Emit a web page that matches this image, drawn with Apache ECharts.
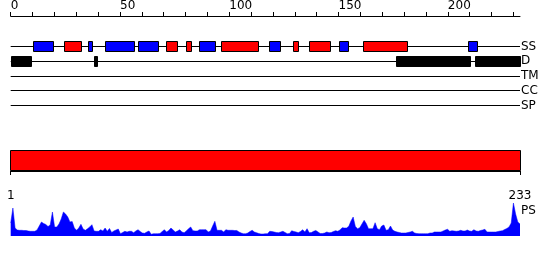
<!DOCTYPE html>
<html><head><meta charset="utf-8">
<script src="https://cdn.jsdelivr.net/npm/echarts@6/dist/echarts.min.js"></script>
<style>html,body{margin:0;padding:0;background:#fff}#c{width:550px;height:260px}</style>
</head><body><div id="c"></div>
<script>
const seqLength = 233;
const trackNames = ['SS', 'D', 'TM', 'CC', 'SP'];
const topTicks = [0,10,20,30,40,50,60,70,80,90,100,110,120,130,140,150,160,170,180,190,200,210,220,230];
const topLabels = [0, 50, 100, 150, 200];
const bottomLabels = [1, 233];
const helixRegions = [[25,32],[72,76],[81,82],[97,113],[130,131],[137,146],[162,181]];
const strandRegions = [[11,19],[36,37],[44,56],[59,67],[87,93],[119,123],[151,154],[210,213]];
const disorderRegions = [[1,9],[39,39],[177,210],[213,233]];
const wholeRegion = [[1,233]];
const psValues = [
 13,28,8,6,5.7,5.7,5.5,5.5,5,4.7,
 4.7,4.7,6,10,14,12.5,11.5,9.5,11,24,
 9,9,12,17,24,22,19,14,14.5,8,
 5.7,8,11.7,7,5.7,7.3,9,11.3,5,4.7,
 4.7,6.3,5,8,4.7,7.5,3.5,5,6,7,
 2.3,3.5,4.7,4,4.7,4.7,3.3,5,6.3,4.5,
 3,2.7,4,5,1.7,2.3,2.3,2.3,2.5,4.5,
 6.3,4,5.5,8,6,4,5,6.3,4,3.3,
 5,7.3,9,5.3,5,5,6.3,6.3,6.3,6.3,
 4,5,10,14.7,5.7,5.7,5.7,4,6.3,5.7,
 5.7,5.7,5.5,5.5,4,3,2.3,2.3,3,4.5,
 5.7,4,3.3,2.5,2,2,2.3,2.3,4.7,4.5,
 4,3.5,3.3,4,4.7,3.5,2.3,2.5,5.3,4.5,
 4,3.3,4.5,6.3,4,7.3,3.3,3.5,4.7,5.5,
 4,2.5,2.5,3,4,3.3,3.5,4.5,5.3,4.7,
 6,8.3,8,8,9.7,15,19,9.5,7.3,8.3,
 12,15.7,12.3,7.3,7.3,7.3,13.3,7.3,6.3,10,
 11,5.7,6.3,10,6,4.7,4,3.5,3,3,
 3,3.5,4,4.7,3,2.5,2.3,2.3,2.3,2.3,
 2.3,3,3,4,4,4,4,5,6,6.7,
 4.7,5.3,5,4.7,5,5.7,5,5,6,5,
 4.7,6.3,5,4.7,5.5,6,6.7,4,4,4,
 4,4,4.5,5,5.3,6.5,7.5,9,13,33,
 22,14,12
];

const FONT = 'DejaVu Sans';
const chart = echarts.init(document.getElementById('c'), null, {renderer: 'canvas'});

function snap(v) { return Math.round(v - 0.5) + 0.5; }

function trackLine(params, api) {
  const t = api.value(2);
  const p1 = api.coord([api.value(0), t]);
  const p2 = api.coord([api.value(1), t]);
  const y = Math.floor(p1[1]) + 0.5;
  return {type: 'line', shape: {x1: p1[0], y1: y, x2: p2[0], y2: y},
          style: {stroke: '#000', lineWidth: 1}};
}
function box(params, api) {
  const t = api.value(2);
  const s = Math.max(api.value(0) - 0.5, 0);
  const e = Math.min(api.value(1) + 0.5, seqLength);
  const p1 = api.coord([s, t]);
  const p2 = api.coord([e, t]);
  const cy = Math.floor(p1[1]) + 0.5;
  const x1 = snap(p1[0]), x2 = snap(p2[0]);
  return {type: 'rect', shape: {x: x1, y: cy - 5, width: Math.max(1, x2 - x1), height: 10},
          style: {fill: api.visual('color'), stroke: '#000', lineWidth: 1}};
}
function wideBar(params, api) {
  const cs = params.coordSys;
  const p1 = api.coord([api.value(0), 0]);
  const p2 = api.coord([api.value(1), 0]);
  const x1 = snap(p1[0]), x2 = snap(p2[0]);
  return {type: 'rect', shape: {x: x1, y: cs.y + 0.5, width: x2 - x1, height: cs.height - 1},
          style: {fill: api.visual('color'), stroke: '#000', lineWidth: 1}};
}

const regionData = (arr) => arr.map(r => [r[0], r[1], 'SS']);

chart.setOption({
  animation: false,
  backgroundColor: '#fff',
  title: {text: 'PS', left: 521, top: 205, padding: 0,
          textStyle: {fontSize: 12, fontWeight: 'normal', color: '#000', fontFamily: FONT}},
  grid: [
    {left: 10.7, right: 30, top: 38, height: 75},
    {left: 10.7, right: 30, top: 150, height: 21},
    {left: 10.7, right: 30, top: 200, height: 36}
  ],
  xAxis: [
    {gridIndex: 0, type: 'value', min: 0, max: seqLength, position: 'top', offset: 23,
     axisLine: {show: true, lineStyle: {color: '#000', width: 1}},
     axisTick: {show: true, length: 4, customValues: topTicks, lineStyle: {color: '#000'}},
     axisLabel: {show: true, customValues: topLabels, align: 'left', margin: 4,
                 fontSize: 12, color: '#000', fontFamily: FONT},
     splitLine: {show: false}},
    {gridIndex: 1, type: 'value', min: 1, max: seqLength, position: 'bottom', offset: 10,
     axisLine: {show: true, lineStyle: {color: '#000', width: 1}},
     axisTick: {show: true, length: 4, customValues: bottomLabels, lineStyle: {color: '#000'}},
     axisLabel: {show: true, customValues: bottomLabels, margin: 9,
                 fontSize: 12, color: '#000', fontFamily: FONT},
     splitLine: {show: false}},
    {gridIndex: 2, type: 'value', min: 1, max: seqLength, show: false}
  ],
  yAxis: [
    {gridIndex: 0, type: 'category', data: trackNames, inverse: true, position: 'right',
     axisLine: {show: false}, axisTick: {show: false}, splitLine: {show: false},
     axisLabel: {interval: 0, margin: 1, align: 'left', fontSize: 12, color: '#000', fontFamily: FONT}},
    {gridIndex: 1, type: 'value', min: 0, max: 1, show: false},
    {gridIndex: 2, type: 'value', min: 0, max: 36, show: false}
  ],
  series: [
    {type: 'custom', xAxisIndex: 0, yAxisIndex: 0, renderItem: trackLine, z: 1,
     encode: {x: [0, 1], y: 2},
     data: trackNames.map(n => [0, seqLength, n])},
    {type: 'custom', xAxisIndex: 0, yAxisIndex: 0, renderItem: box, z: 2,
     itemStyle: {color: '#0000ff'}, encode: {x: [0, 1], y: 2},
     data: regionData(strandRegions)},
    {type: 'custom', xAxisIndex: 0, yAxisIndex: 0, renderItem: box, z: 2,
     itemStyle: {color: '#ff0000'}, encode: {x: [0, 1], y: 2},
     data: regionData(helixRegions)},
    {type: 'custom', xAxisIndex: 0, yAxisIndex: 0, renderItem: box, z: 2,
     itemStyle: {color: '#000000'}, encode: {x: [0, 1], y: 2},
     data: disorderRegions.map(r => [r[0], r[1], 'D'])},
    {type: 'custom', xAxisIndex: 1, yAxisIndex: 1, renderItem: wideBar,
     itemStyle: {color: '#ff0000'}, encode: {x: [0, 1]},
     data: wholeRegion},
    {type: 'line', xAxisIndex: 2, yAxisIndex: 2, showSymbol: false, smooth: false,
     lineStyle: {color: '#0000ff', width: 0.5}, itemStyle: {color: '#0000ff'},
     areaStyle: {color: '#0000ff', opacity: 1},
     data: psValues.map((v, i) => [i + 1, v])}
  ]
});
</script></body></html>
